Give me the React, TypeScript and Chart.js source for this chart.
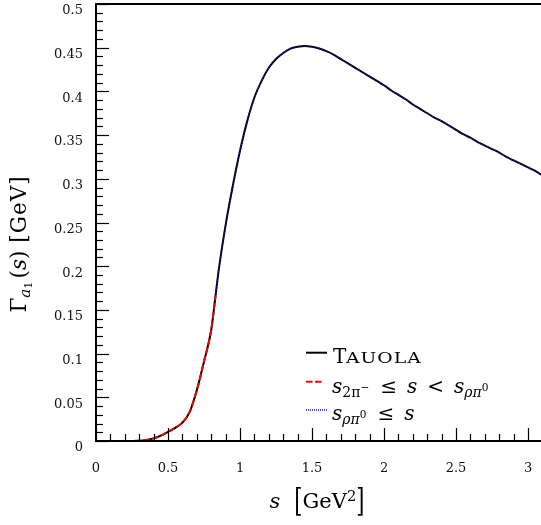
import React, { useEffect, useRef } from "react";
import { Chart, registerables } from "chart.js";

Chart.register(...registerables);

// s = invariant mass squared of the 3-pion system [GeV^2]
const sGrid = [
  0, 0.05, 0.08, 0.1, 0.15, 0.2, 0.25, 0.3, 0.35, 0.4, 0.45, 0.5, 0.55, 0.6, 0.65, 0.7, 0.75, 0.8, 0.83,
  0.85, 0.9, 0.95, 1.0, 1.05, 1.1, 1.15, 1.2, 1.25, 1.3, 1.35, 1.4, 1.45, 1.5, 1.55, 1.6, 1.65, 1.7,
  1.75, 1.8, 1.85, 1.9, 1.95, 2.0, 2.05, 2.1, 2.15, 2.2, 2.25, 2.3, 2.35, 2.4, 2.45, 2.5, 2.55, 2.6,
  2.65, 2.7, 2.75, 2.8, 2.85, 2.9, 2.95, 3.0, 3.05, 3.1,
];

// Gamma_a1(s) [GeV] from TAUOLA
const gammaTauola = [
  0, 0, 0, 0, 0, 0, 0.0001, 0.0004, 0.0013, 0.003, 0.0062, 0.0105, 0.015, 0.021, 0.033, 0.058, 0.091,
  0.127, 0.166, 0.193, 0.247, 0.292, 0.332, 0.366, 0.393, 0.412, 0.427, 0.437, 0.444, 0.449, 0.451,
  0.452, 0.451, 0.449, 0.446, 0.442, 0.437, 0.432, 0.427, 0.422, 0.417, 0.412, 0.407, 0.401, 0.396,
  0.391, 0.385, 0.38, 0.375, 0.37, 0.366, 0.361, 0.356, 0.351, 0.347, 0.342, 0.338, 0.334, 0.33,
  0.325, 0.321, 0.317, 0.313, 0.309, 0.304,
];

// thresholds [GeV^2]
const s2PiMinus = 0.08; // (2 m_pi-)^2
const sRhoPi0 = 0.83; // (m_rho + m_pi0)^2

// axis ranges and tick spacing
const xRange = [0, 3.09];
const yRange = [0, 0.5];
const xTickStep = [0.5, 0.1];
const yTickStep = [0.05, 0.01];

const serif = '"DejaVu Serif", "Liberation Serif", serif';

const tauolaPts = sGrid.map((s, i) => ({ x: s, y: gammaTauola[i] }));
const lowRegionPts = tauolaPts.filter((p) => p.x >= s2PiMinus && p.x <= sRhoPi0);
const highRegionPts = tauolaPts.filter((p) => p.x >= sRhoPi0);

const fmt = (v: number) => String(Number(Number(v).toFixed(2)));

// axis frame with inward major/minor tick marks
const frameTicks = {
  id: "frameTicks",
  afterDraw(chart: any) {
    const { ctx, chartArea: a, scales } = chart;
    const xs = scales.x;
    const ys = scales.y;
    ctx.save();
    ctx.strokeStyle = "#000";
    ctx.lineWidth = 1.2;
    const nY = Math.round((yRange[1] - yRange[0]) / yTickStep[1]);
    const perY = Math.round(yTickStep[0] / yTickStep[1]);
    for (let i = 0; i <= nY; i++) {
      const py = Math.round(ys.getPixelForValue(yRange[0] + i * yTickStep[1])) + 0.5;
      const len = i % perY === 0 ? 13 : 7;
      ctx.beginPath();
      ctx.moveTo(a.left, py);
      ctx.lineTo(a.left + len, py);
      ctx.stroke();
    }
    const nX = Math.floor((xRange[1] - xRange[0]) / xTickStep[1] + 1e-6);
    const perX = Math.round(xTickStep[0] / xTickStep[1]);
    for (let i = 0; i <= nX; i++) {
      const px = Math.round(xs.getPixelForValue(xRange[0] + i * xTickStep[1])) + 0.5;
      const len = i % perX === 0 ? 13 : 7;
      ctx.beginPath();
      ctx.moveTo(px, a.bottom);
      ctx.lineTo(px, a.bottom - len);
      ctx.stroke();
    }
    ctx.lineWidth = 2;
    ctx.beginPath();
    ctx.moveTo(a.right, a.top);
    ctx.lineTo(a.left, a.top);
    ctx.lineTo(a.left, a.bottom);
    ctx.lineTo(a.right, a.bottom);
    ctx.stroke();
    ctx.restore();
  },
};

const sub: React.CSSProperties = { fontSize: "0.7em", position: "relative", top: "0.28em" };
const sup: React.CSSProperties = { fontSize: "0.7em", position: "relative", top: "-0.45em" };
const supSmall: React.CSSProperties = { fontSize: "0.75em", position: "relative", top: "-0.6em", fontStyle: "normal" };

export default function App() {
  const ref = useRef<HTMLCanvasElement | null>(null);

  useEffect(() => {
    if (!ref.current) return;
    const chart = new Chart(ref.current, {
      type: "line",
      data: {
        datasets: [
          {
            label: "s2pi- <= s < srhopi0",
            data: lowRegionPts,
            borderColor: "#ff0000",
            borderWidth: 2,
            borderDash: [6, 3],
            pointRadius: 0,
            cubicInterpolationMode: "monotone",
          },
          {
            label: "srhopi0 <= s",
            data: highRegionPts,
            borderColor: "#1a1aff",
            borderWidth: 1.3,
            borderDash: [1, 2],
            pointRadius: 0,
            cubicInterpolationMode: "monotone",
          },
          {
            label: "Tauola",
            data: tauolaPts,
            borderColor: "#000000",
            borderWidth: 2,
            pointRadius: 0,
            cubicInterpolationMode: "monotone",
          },
        ],
      },
      options: {
        responsive: false,
        animation: false,
        devicePixelRatio: 1,
        parsing: false,
        layout: { padding: { top: 4, left: 0, right: 0, bottom: 0 } },
        plugins: { legend: { display: false }, tooltip: { enabled: false } },
        scales: {
          x: {
            type: "linear",
            min: xRange[0],
            max: xRange[1],
            grid: { display: false, drawTicks: false },
            border: { display: false },
            ticks: {
              stepSize: xTickStep[0],
              includeBounds: false,
              autoSkip: false,
              maxRotation: 0,
              padding: 20,
              color: "#111",
              font: { family: serif, size: 13 },
              callback: (v: any) => fmt(v),
            },
            afterFit: (s: any) => {
              s.height = 84;
              s.paddingLeft = 0;
              s.paddingRight = 0;
            },
          },
          y: {
            type: "linear",
            min: yRange[0],
            max: yRange[1],
            grid: { display: false, drawTicks: false },
            border: { display: false },
            ticks: {
              stepSize: yTickStep[0],
              includeBounds: false,
              autoSkip: false,
              padding: 13,
              labelOffset: 7,
              color: "#111",
              font: { family: serif, size: 13 },
              callback: (v: any) => fmt(v),
            },
            afterFit: (s: any) => {
              s.width = 96;
              s.paddingTop = 0;
              s.paddingBottom = 0;
            },
          },
        },
      } as any,
      plugins: [frameTicks],
    });
    return () => chart.destroy();
  }, []);

  const text: React.CSSProperties = {
    position: "absolute",
    whiteSpace: "nowrap",
    fontFamily: serif,
    lineHeight: "1",
    color: "#000",
  };

  return (
    <div style={{ position: "absolute", left: 0, top: 0, width: 541, height: 525, background: "#fff", overflow: "hidden" }}>
      <canvas ref={ref} width={541} height={525} style={{ display: "block" }} />

      {/* y-axis title, rotated about its centre */}
      <div
        style={{
          ...text,
          left: 19 - 150,
          top: 244 - 13,
          width: 300,
          height: 26,
          lineHeight: "26px",
          textAlign: "center",
          fontSize: 21.5,
          transform: "rotate(-90deg)",
        }}
      >
        Γ<span style={{ ...sub, fontStyle: "italic" }}>a<span style={{ fontSize: "0.75em", position: "relative", top: "0.2em", fontStyle: "normal" }}>1</span></span>
        <span style={{ marginLeft: 3 }}>(<i>s</i>)</span>
        <span style={{ marginLeft: 8, letterSpacing: 1 }}>[GeV]</span>
      </div>

      {/* x-axis title */}
      <div style={{ ...text, left: 317, top: 501, fontSize: 21, transform: "translate(-50%, -50%)" }}>
        <i>s</i>
        <span style={{ display: "inline-block", marginLeft: 14, transform: "scaleY(1.55)" }}>[</span>
        GeV<span style={sup}>2</span>
        <span style={{ display: "inline-block", transform: "scaleY(1.55)" }}>]</span>
      </div>

      {/* legend */}
      <svg style={{ position: "absolute", left: 306, top: 346 }} width={24} height={70}>
        <line x1={0} y1={6.7} x2={21} y2={6.7} stroke="#000" strokeWidth={2} />
        <line x1={0} y1={35.7} x2={16} y2={35.7} stroke="#ff0000" strokeWidth={2} strokeDasharray="6.5 2.5" />
        <line x1={0} y1={64} x2={21} y2={64} stroke="#1a1aff" strokeWidth={1.5} strokeDasharray="1 1" />
      </svg>
      <div style={{ ...text, left: 333, top: 346, fontSize: 20 }}>
        T
        <span
          style={{
            display: "inline-block",
            fontSize: 15,
            letterSpacing: 0.8,
            transform: "scaleX(1.25)",
            transformOrigin: "left center",
          }}
        >
          AUOLA
        </span>
      </div>
      <div style={{ ...text, left: 332, top: 376, fontSize: 20 }}>
        <i>s</i>
        <span style={sub}>2π<span style={supSmall}>−</span></span>
        <span style={{ margin: "0 10px 0 11px" }}>≤</span>
        <i>s</i>
        <span style={{ margin: "0 10px" }}>&lt;</span>
        <i>s</i>
        <span style={{ ...sub, fontStyle: "italic" }}>ρπ<span style={supSmall}>0</span></span>
      </div>
      <div style={{ ...text, left: 332, top: 403, fontSize: 20 }}>
        <i>s</i>
        <span style={{ ...sub, fontStyle: "italic" }}>ρπ<span style={supSmall}>0</span></span>
        <span style={{ margin: "0 10px 0 11px" }}>≤</span>
        <i>s</i>
      </div>
    </div>
  );
}
